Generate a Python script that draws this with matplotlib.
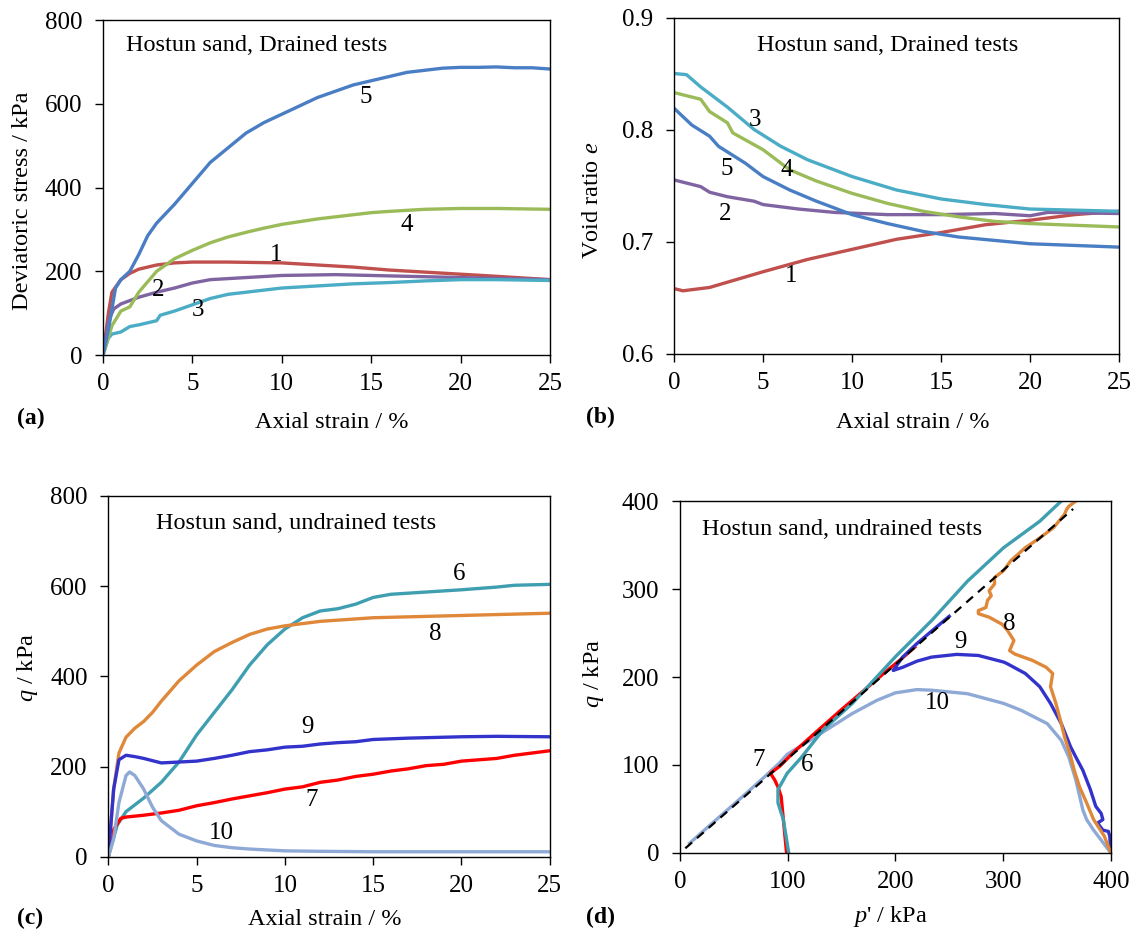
import numpy as np
import matplotlib
matplotlib.use("Agg")
import matplotlib.pyplot as plt

plt.rcParams['font.family'] = ['Liberation Serif', 'DejaVu Serif']
plt.rcParams['mathtext.fontset'] = 'custom'
plt.rcParams['mathtext.rm'] = 'Liberation Serif'
plt.rcParams['mathtext.it'] = 'Liberation Serif:italic'

# ---- (a) drained: deviatoric stress vs axial strain
a1_x = [0, 0.3, 0.5, 1, 1.5, 2, 3, 4, 5, 7, 10, 12, 14, 16, 18, 20, 22, 25]
a1_y = [0, 100, 150, 180, 195, 205, 215, 220, 222, 222, 220, 215, 210, 203, 198, 193, 188, 180]
a2_x = [0, 0.3, 0.6, 1, 2, 3, 4, 5, 6, 8, 10, 13, 15, 18, 20, 22, 25]
a2_y = [0, 80, 110, 122, 138, 150, 160, 172, 180, 185, 190, 192, 190, 187, 185, 183, 180]
a3_x = [0, 0.3, 0.5, 1, 1.5, 2, 3, 3.2, 4, 5, 6, 7, 8, 10, 12, 14, 16, 18, 20, 22, 25]
a3_y = [0, 40, 50, 55, 68, 72, 82, 95, 105, 120, 135, 145, 150, 160, 165, 170, 173, 177, 180, 180, 178]
a4_x = [0, 0.5, 1, 1.5, 2, 2.5, 3, 4, 5, 6, 7, 8, 9, 10, 12, 14, 15, 16, 18, 20, 22, 25]
a4_y = [0, 70, 105, 115, 150, 175, 200, 230, 250, 268, 282, 293, 303, 312, 325, 335, 340, 343, 348, 350, 350, 348]
a5_x = [0, 0.3, 0.7, 1, 1.5, 2, 2.5, 3, 4, 5, 6, 7, 8, 9, 10, 11, 12, 13, 14, 15, 16, 17, 18, 19, 20, 21, 22, 23, 24, 25]
a5_y = [0, 60, 160, 180, 200, 240, 285, 315, 360, 410, 460, 495, 530, 555, 575, 595, 615, 630, 645, 655, 665, 675, 680, 685, 687, 687, 688, 686, 686, 683]

# ---- (b) drained: void ratio vs axial strain
b1_x = [0, 0.5, 2, 5, 7.5, 10, 12.5, 15, 17.5, 20, 22.5, 25]
b1_y = [0.658, 0.656, 0.659, 0.673, 0.684, 0.693, 0.702, 0.708, 0.715, 0.719, 0.724, 0.727]
b2_x = [0, 1.5, 2, 3, 4.5, 5, 7, 9, 12, 15, 18, 20, 21, 25]
b2_y = [0.755, 0.749, 0.744, 0.740, 0.736, 0.733, 0.729, 0.726, 0.724, 0.724, 0.725, 0.723, 0.726, 0.725]
b3_x = [0, 0.7, 1.5, 3, 4.5, 6, 7.5, 10, 12.5, 15, 17.5, 20, 22.5, 25]
b3_y = [0.850, 0.849, 0.838, 0.820, 0.800, 0.785, 0.773, 0.758, 0.746, 0.738, 0.733, 0.729, 0.728, 0.727]
b4_x = [0, 1, 1.5, 2, 3, 3.3, 5, 6.5, 8, 10, 12, 14, 16, 18, 20, 25]
b4_y = [0.833, 0.829, 0.827, 0.816, 0.806, 0.797, 0.782, 0.764, 0.754, 0.743, 0.734, 0.727, 0.722, 0.718, 0.716, 0.713]
b5_x = [0, 1, 2, 2.5, 4, 5, 6.5, 8, 10, 12, 14, 16, 18, 20, 25]
b5_y = [0.819, 0.804, 0.794, 0.785, 0.770, 0.758, 0.746, 0.736, 0.724, 0.716, 0.709, 0.704, 0.701, 0.698, 0.695]

# ---- (c) undrained: q vs axial strain
c6_x = [0, 0.5, 1, 2, 3, 4, 5, 6, 7, 8, 9, 10, 11, 12, 13, 14, 15, 16, 18, 20, 22, 23, 25]
c6_y = [0, 70, 100, 130, 165, 210, 270, 320, 370, 425, 470, 505, 530, 545, 550, 560, 575, 582, 587, 592, 598, 602, 604]
c7_x = [0, 0.3, 0.7, 1, 2, 3, 4, 5, 6, 7, 8, 9, 10, 11, 12, 13, 14, 15, 16, 17, 18, 19, 20, 21, 22, 23, 24, 25]
c7_y = [0, 60, 85, 88, 92, 97, 103, 113, 120, 128, 135, 142, 150, 155, 165, 170, 178, 183, 190, 195, 202, 205, 212, 215, 218, 225, 230, 235]
c8_x = [0, 0.3, 0.6, 1, 1.5, 2, 2.5, 3, 4, 5, 6, 7, 8, 9, 10, 12, 15, 20, 25]
c8_y = [0, 150, 230, 265, 285, 300, 320, 345, 390, 425, 455, 475, 493, 505, 512, 522, 530, 535, 540]
c9_x = [0, 0.3, 0.6, 1, 1.5, 2, 3, 4, 5, 6, 7, 8, 9, 10, 11, 12, 13, 14, 15, 17, 20, 22, 25]
c9_y = [0, 150, 215, 225, 222, 218, 208, 210, 212, 218, 225, 233, 237, 243, 245, 250, 253, 255, 260, 263, 266, 267, 266]
c10_x = [0, 0.3, 0.6, 1, 1.2, 1.5, 2, 2.5, 3, 4, 5, 6, 7, 8, 10, 12, 15, 25]
c10_y = [0, 40, 120, 180, 188, 180, 150, 110, 80, 50, 35, 25, 20, 17, 13, 12, 11, 11]

# ---- (d) undrained: stress paths q vs p'
d6_p = [101, 96, 91, 91, 99.5, 113, 133, 160, 200, 233.5, 267, 300.5, 334, 354, 372]
d6_q = [0, 38, 57, 72, 90.5, 109, 140, 170, 223, 264, 309, 347, 377, 400, 420]
d7_p = [99, 96, 94, 91, 88, 84, 93, 106, 126, 150, 173, 190, 205, 218]
d7_q = [0, 38, 64, 75, 83, 90.5, 99, 115, 137, 163, 187, 205, 220, 234]
d8_p = [400, 394, 384, 377.5, 371, 366, 362, 357, 354, 349, 344, 346, 340, 327, 311, 306, 310, 304, 299, 287,
        277, 277, 284, 285.5, 289, 287, 292, 292, 300.5, 307, 320.6, 334, 347, 357, 359, 361, 367.5, 375]
d8_q = [0, 19, 38, 57, 75, 94, 113, 132, 147, 170, 189, 204, 211, 219, 226, 230, 241.5, 253, 260, 268,
        272, 275.5, 279, 287, 292.5, 298, 305.7, 313, 321, 332, 347, 358, 370, 385, 390.6, 394, 400, 420]
d9_p = [400, 399, 397.7, 392.6, 387.6, 392.6, 391, 386, 381, 374, 367.5, 362.5, 354, 344, 334, 320.6, 304, 300.5,
        277, 257, 233.5, 220, 206.7, 198, 200, 206.7, 220, 233.5, 250]
d9_q = [0, 19, 24.5, 26, 34, 38, 45, 53, 72, 94, 109, 121, 147, 170, 189, 204, 215, 217,
        224.5, 225.7, 222.6, 218, 211, 207.5, 211, 222.6, 238, 252, 269]
d10_p = [400, 384, 377.5, 374, 367.5, 361, 354, 341, 317, 300.5, 267, 233.5, 220, 200, 183, 160, 140, 116,
         99.5, 93, 79, 59, 39, 19, 9]
d10_q = [0, 26, 38, 49, 83, 109, 128, 147, 162, 170, 181, 185, 185.7, 182, 173.6, 158.5, 143, 124.5,
         112, 103, 87, 65, 43.5, 22, 11]
cs_p = [5, 365]
cs_q = [5.3, 391]

col1, col2, col3, col4, col5 = '#C0504D', '#8064A2', '#4BACC6', '#9BBB59', '#4A7EC4'
col6, col7, col8, col9, col10 = '#3F9FB0', '#FF0000', '#E0883A', '#3333CC', '#8EA9D6'
lw = 2.4
fs = 18      # tick labels
fl = 17.5    # axis labels / annotations

fig = plt.figure(figsize=(11.37, 9.36), dpi=100)
ax_a = fig.add_axes([0.0906, 0.6207, 0.3931, 0.3579])
ax_b = fig.add_axes([0.5928, 0.6223, 0.3914, 0.3590])
ax_c = fig.add_axes([0.0953, 0.0847, 0.3882, 0.3854])
ax_d = fig.add_axes([0.5980, 0.0887, 0.3790, 0.3760])

for ax in (ax_a, ax_b, ax_c, ax_d):
    ax.tick_params(direction='out', length=6, width=1, labelsize=fs)
    ax.tick_params(axis='x', pad=7)
    ax.tick_params(axis='y', pad=9)
    for s in ax.spines.values():
        s.set_linewidth(1.0)


def labels(ax, xl, yl, xpos, ypos):
    ax.set_xlabel(xl, fontsize=fl)
    ax.set_ylabel(yl, fontsize=fl)
    ax.xaxis.set_label_coords(*xpos)
    ax.yaxis.set_label_coords(*ypos)
    ax.xaxis.label.set_va('center')
    ax.yaxis.label.set_va('center')


# (a)
ax_a.plot(a1_x, a1_y, color=col1, lw=lw)
ax_a.plot(a2_x, a2_y, color=col2, lw=lw)
ax_a.plot(a3_x, a3_y, color=col3, lw=lw)
ax_a.plot(a4_x, a4_y, color=col4, lw=lw)
ax_a.plot(a5_x, a5_y, color=col5, lw=lw)
ax_a.set_xlim(0, 25)
ax_a.set_ylim(0, 800)
ax_a.set_xticks([0, 5, 10, 15, 20, 25])
ax_a.set_yticks([0, 200, 400, 600, 800])
labels(ax_a, 'Axial strain / %', 'Deviatoric stress / kPa', (0.512, -0.2), (-0.18, 0.46))
ax_a.text(1.3, 739, 'Hostun sand, Drained tests', fontsize=fl, va='center')
for t, x, y in [('5', 14.7, 616), ('4', 17.0, 310), ('1', 9.7, 238), ('2', 3.1, 155), ('3', 5.3, 107)]:
    ax_a.text(x, y, t, fontsize=fs, ha='center', va='center')

# (b)
ax_b.plot(b1_x, b1_y, color=col1, lw=lw)
ax_b.plot(b2_x, b2_y, color=col2, lw=lw)
ax_b.plot(b3_x, b3_y, color=col3, lw=lw)
ax_b.plot(b4_x, b4_y, color=col4, lw=lw)
ax_b.plot(b5_x, b5_y, color=col5, lw=lw)
ax_b.set_xlim(0, 25)
ax_b.set_ylim(0.6, 0.9)
ax_b.set_xticks([0, 5, 10, 15, 20, 25])
ax_b.set_yticks([0.6, 0.7, 0.8, 0.9])
ax_b.set_yticklabels(['0.6', '0.7', '0.8', '0.9'])
labels(ax_b, 'Axial strain / %', 'Void ratio $e$', (0.536, -0.204), (-0.183, 0.457))
ax_b.text(12.0, 0.875, 'Hostun sand, Drained tests', fontsize=fl, ha='center', va='center')
for t, x, y in [('3', 4.55, 0.8085), ('5', 2.95, 0.765), ('4', 6.35, 0.764), ('2', 2.85, 0.725), ('1', 6.6, 0.669)]:
    ax_b.text(x, y, t, fontsize=fs, ha='center', va='center')

# (c)
ax_c.plot(c6_x, c6_y, color=col6, lw=lw)
ax_c.plot(c7_x, c7_y, color=col7, lw=lw)
ax_c.plot(c8_x, c8_y, color=col8, lw=lw)
ax_c.plot(c9_x, c9_y, color=col9, lw=lw)
ax_c.plot(c10_x, c10_y, color=col10, lw=lw)
ax_c.set_xlim(0, 25)
ax_c.set_ylim(0, 800)
ax_c.set_xticks([0, 5, 10, 15, 20, 25])
ax_c.set_yticks([0, 200, 400, 600, 800])
labels(ax_c, 'Axial strain / %', '$q$ / kPa', (0.49, -0.175), (-0.184, 0.525))
ax_c.text(2.7, 739, 'Hostun sand, undrained tests', fontsize=fl, va='center')
for t, x, y in [('6', 19.85, 628), ('8', 18.5, 495), ('9', 11.3, 288), ('7', 11.5, 126), ('10', 6.4, 53)]:
    ax_c.text(x, y, t, fontsize=fs, ha='center', va='center')

# (d)
ax_d.plot(cs_p, cs_q, color='black', lw=1.6, ls=(0, (4, 3)), zorder=5)
ax_d.plot(d10_p, d10_q, color=col10, lw=lw)
ax_d.plot(d7_p, d7_q, color=col7, lw=lw)
ax_d.plot(d9_p, d9_q, color=col9, lw=lw)
ax_d.plot(d8_p, d8_q, color=col8, lw=lw)
ax_d.plot(d6_p, d6_q, color=col6, lw=lw)
ax_d.set_xlim(0, 400)
ax_d.set_ylim(0, 400)
ax_d.set_xticks([0, 100, 200, 300, 400])
ax_d.set_yticks([0, 100, 200, 300, 400])
labels(ax_d, "$p$' / kPa", '$q$ / kPa', (0.489, -0.181), (-0.2, 0.51))
ax_d.text(20.8, 368, 'Hostun sand, undrained tests', fontsize=fl, va='center')
for t, x, y in [('9', 260, 240), ('8', 305.5, 260), ('10', 238.5, 170), ('7', 72.7, 106), ('6', 118, 100)]:
    ax_d.text(x, y, t, fontsize=fs, ha='center', va='center')

# panel letters
fig.text(0.015, 0.5534, '(a)', fontsize=17, fontweight='bold', va='center')
fig.text(0.5154, 0.5545, '(b)', fontsize=17, fontweight='bold', va='center')
fig.text(0.015, 0.0192, '(c)', fontsize=17, fontweight='bold', va='center')
fig.text(0.5154, 0.0203, '(d)', fontsize=17, fontweight='bold', va='center')

fig.savefig('out.png', dpi=100)
